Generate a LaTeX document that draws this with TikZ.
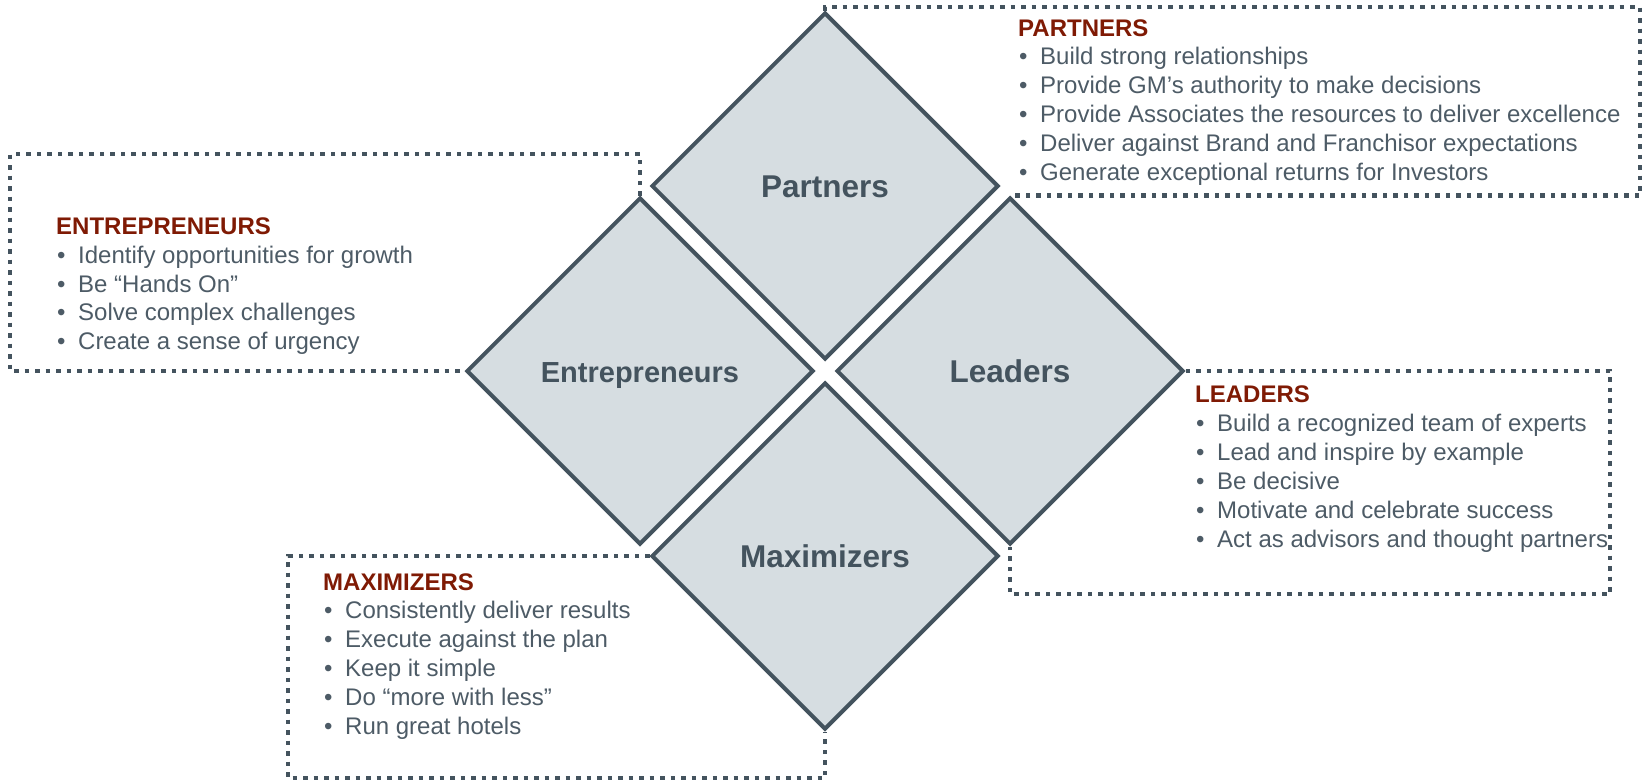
\documentclass[tikz,border=0pt]{standalone}
\usepackage{fontspec}
\setmainfont{Liberation Sans}
\usetikzlibrary{shapes.geometric,backgrounds}
\definecolor{edgecol}{HTML}{44535E}
\definecolor{fillcol}{HTML}{D6DDE1}
\definecolor{txtcol}{HTML}{4D5B66}
\definecolor{headcol}{HTML}{7F1A04}
\newcommand{\bul}[1]{\makebox[22pt][l]{\hspace{1pt}•}#1}
\tikzset{
  dia/.style={shape=diamond, aspect=1, minimum width=347pt, minimum height=347pt,
    inner sep=0pt, draw=edgecol, fill=fillcol, line width=4pt,
    text=edgecol, font=\bfseries\fontsize{31.5}{36}\selectfont,
    text height=23pt, text depth=0pt},
  dotbox/.style={draw=edgecol, line width=4.2pt, dash pattern=on 4.5pt off 6pt},
  txt/.style={anchor=base west, inner sep=0pt, text=txtcol, font=\fontsize{24}{29}\selectfont},
  head/.style={txt, text=headcol, font=\bfseries\fontsize{24}{29}\selectfont}
}
\begin{document}
\begin{tikzpicture}[x=1pt,y=-1pt]
\useasboundingbox (0,0) rectangle (1643,782);
% diamonds
\node[dia] (P) at (825,186) {Partners};
\node[dia, font=\bfseries\fontsize{29}{34}\selectfont] (E) at (640,371) {Entrepreneurs};
\node[dia] (L) at (1010,371) {Leaders};
\node[dia] (M) at (825,556) {Maximizers};
% dotted frames, behind the diamonds
\coordinate (ptr) at (1640,7);
\coordinate (etl) at (10,154);
\coordinate (lbr) at (1610,594);
\coordinate (mbl) at (288,778);
\begin{scope}[on background layer]
\draw[dotbox] (P.north) |- (ptr) -- (ptr |- L.north) -- (L.north);
\draw[dotbox] (E.north) |- (etl) -- (etl |- E.west) -- (E.west);
\draw[dotbox] (L.east) -| (lbr) -| (L.south);
\draw[dotbox] (M.west) -| (mbl) -| (M.south);
\end{scope}
% Partners text
\node[head] (ph) at (1018,36) {PARTNERS};
\node[txt] (p1) at (1018,64) {\bul{Build strong relationships}};
\node[txt] (p2) at (1018,93) {\bul{Provide GM’s authority to make decisions}};
\node[txt] (p3) at (1018,122) {\bul{Provide Associates the resources to deliver excellence}};
\node[txt] (p4) at (1018,151) {\bul{Deliver against Brand and Franchisor expectations}};
\node[txt] (p5) at (1018,180) {\bul{Generate exceptional returns for Investors}};
% Entrepreneurs text
\node[head] (eh) at (56,234) {ENTREPRENEURS};
\node[txt] (e1) at (56,263) {\bul{Identify opportunities for growth}};
\node[txt] (e2) at (56,292) {\bul{Be “Hands On”}};
\node[txt] (e3) at (56,320.5) {\bul{Solve complex challenges}};
\node[txt] (e4) at (56,349) {\bul{Create a sense of urgency}};
% Leaders text
\node[head] (lh) at (1195,402) {LEADERS};
\node[txt] (l1) at (1195,431) {\bul{Build a recognized team of experts}};
\node[txt] (l2) at (1195,460) {\bul{Lead and inspire by example}};
\node[txt] (l3) at (1195,489) {\bul{Be decisive}};
\node[txt] (l4) at (1195,518) {\bul{Motivate and celebrate success}};
\node[txt] (l5) at (1195,547) {\bul{Act as advisors and thought partners}};
% Maximizers text
\node[head] (mh) at (323,590) {MAXIMIZERS};
\node[txt] (m1) at (323,618) {\bul{Consistently deliver results}};
\node[txt] (m2) at (323,647) {\bul{Execute against the plan}};
\node[txt] (m3) at (323,676) {\bul{Keep it simple}};
\node[txt] (m4) at (323,705) {\bul{Do “more with less”}};
\node[txt] (m5) at (323,734) {\bul{Run great hotels}};
\end{tikzpicture}
\end{document}
